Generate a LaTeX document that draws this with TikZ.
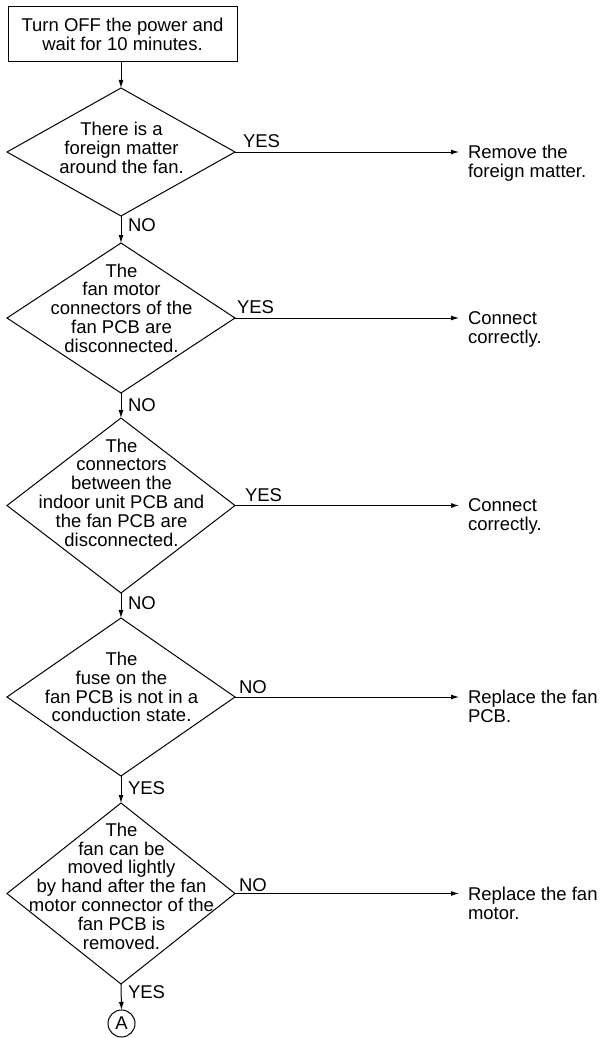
\documentclass[tikz,border=0pt]{standalone}
\usepackage{fontspec}
\setmainfont{Liberation Sans}
\usetikzlibrary{shapes.geometric,arrows.meta}
\begin{document}
\begin{tikzpicture}[x=1pt,y=-1pt,
 every node/.style={font=\fontsize{18.5}{18.8}\selectfont, inner sep=0pt, outer sep=0pt},
 dia/.style={draw, diamond, minimum width=228pt, line width=1pt},
 txt/.style={align=center},
 res/.style={align=left, anchor=north west},
 lbl/.style={anchor=west},
 arr/.style={line width=1pt, -{Latex[length=8pt,width=5pt]}}]
\useasboundingbox (0,0) rectangle (601,1038);

\node[draw, line width=1pt, minimum width=229pt, minimum height=55pt, align=center] (box) at (122.5,34.5) {Turn OFF the power and\\wait for 10 minutes.};

\node[dia, minimum height=128pt] (d1) at (121,152) {};
\node[dia, minimum height=150pt] (d2) at (121,318) {};
\node[dia, minimum height=175pt] (d3) at (121,505.5) {};
\node[dia, minimum height=158pt] (d4) at (121,697) {};
\node[dia, minimum height=181pt] (d5) at (121,893.5) {};

\node[txt] (t1) at (121.5,148) {There is a\\foreign matter\\around the fan.};
\node[txt] (t2) at (121.5,308) {The\\fan motor\\connectors of the\\fan PCB are\\disconnected.};
\node[txt] (t3) at (121.5,492.5) {The\\connectors\\between the\\indoor unit PCB and\\the fan PCB are\\disconnected.};
\node[txt] (t4) at (121.5,687) {The\\fuse on the\\fan PCB is not in a\\conduction state.};
\node[txt] (t5) at (121.5,886) {The\\fan can be\\moved lightly\\by hand after the fan\\motor connector of the\\fan PCB is\\removed.};

\node[draw, circle, line width=1pt, minimum size=27pt] (A) at (121.5,1023.5) {A};

\node[res] (r1) at (468,145.5) {Remove the\\foreign matter.};
\node[res] (r2) at (468,311.5) {Connect\\correctly.};
\node[res] (r3) at (468,499) {Connect\\correctly.};
\node[res] (r4) at (468,690.5) {Replace the fan\\PCB.};
\node[res] (r5) at (468,887) {Replace the fan\\motor.};

\node[lbl] (y1) at (243,141.5) {YES};
\node[lbl] (y2) at (237,307.5) {YES};
\node[lbl] (y3) at (245,495) {YES};
\node[lbl] (n4) at (239,687.5) {NO};
\node[lbl] (n5) at (239,885) {NO};

\node[lbl] (n1) at (128,225) {NO};
\node[lbl] (n2) at (128,405) {NO};
\node[lbl] (n3) at (128,603) {NO};
\node[lbl] (y4) at (128,788) {YES};
\node[lbl] (y5) at (128,992) {YES};

\draw[arr] (box.south -| d1.north) -- (d1.north);
\draw[arr] (d1.south) -- (d2.north);
\draw[arr] (d2.south) -- (d3.north);
\draw[arr] (d3.south) -- (d4.north);
\draw[arr] (d4.south) -- (d5.north);
\draw[arr] (d5.south) -- (A.north);

\draw[arr] (d1.east) -- ([xshift=-9pt]d1.east -| r1.west);
\draw[arr] (d2.east) -- ([xshift=-9pt]d2.east -| r2.west);
\draw[arr] (d3.east) -- ([xshift=-9pt]d3.east -| r3.west);
\draw[arr] (d4.east) -- ([xshift=-9pt]d4.east -| r4.west);
\draw[arr] (d5.east) -- ([xshift=-9pt]d5.east -| r5.west);
\end{tikzpicture}
\end{document}
